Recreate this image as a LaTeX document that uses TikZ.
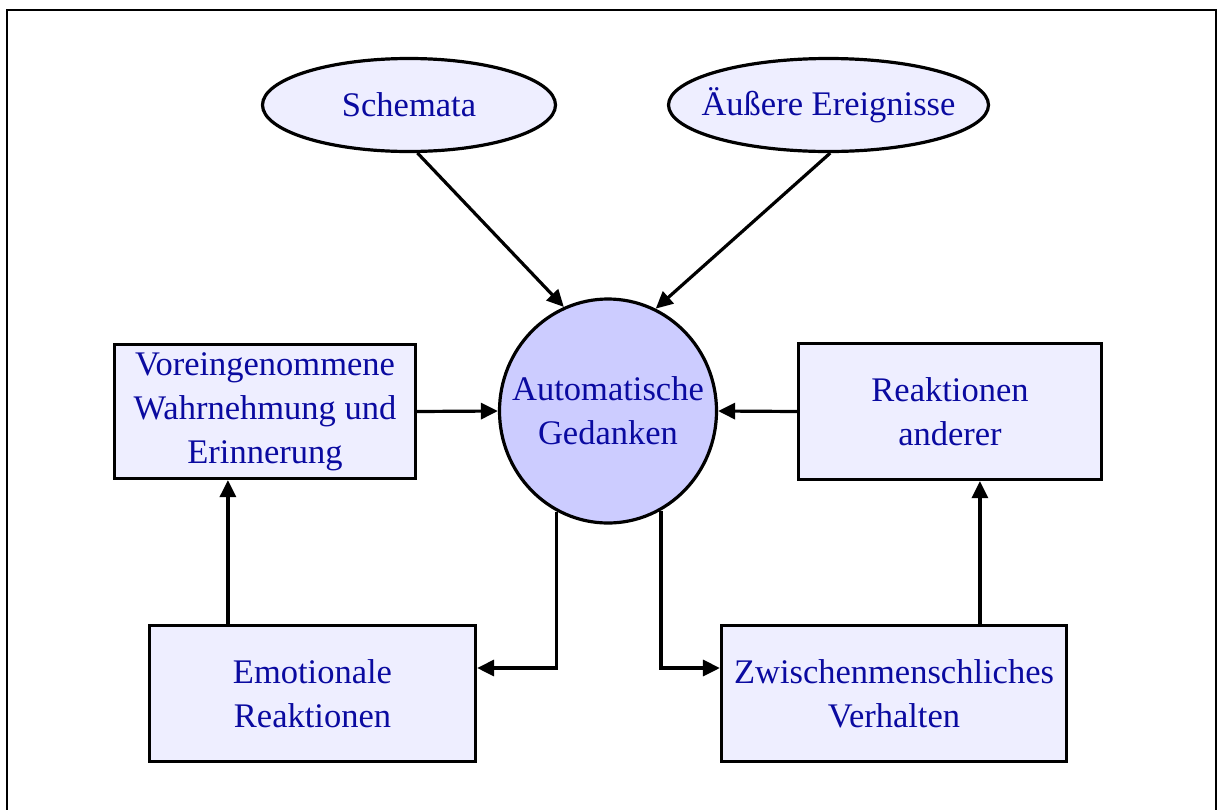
\documentclass[tikz,border=0pt]{standalone}
\usepackage{fontspec}
\setmainfont{Liberation Serif}
\usetikzlibrary{arrows.meta,calc,shapes.geometric}
\definecolor{labelblue}{RGB}{10,10,160}
\definecolor{paleblue}{RGB}{238,238,255}
\definecolor{coreblue}{RGB}{204,204,255}
\begin{document}
\begin{tikzpicture}[x=1pt,y=-1pt,
  every node/.style={font=\fontsize{34.5}{44}\selectfont, text=labelblue, align=center, inner sep=0pt},
  every label/.style={font=\fontsize{34.5}{44}\selectfont, text=labelblue, align=center, inner sep=0pt},
  oval/.style={ellipse, draw=black, line width=3.2pt, fill=paleblue},
  core/.style={ellipse, draw=black, line width=3.2pt, fill=coreblue},
  stepbox/.style={rectangle, draw=black, line width=3.2pt, fill=paleblue},
  arr/.style={line width=3.2pt, -{Triangle[length=17pt,width=16pt]}}
]
\useasboundingbox (0,0) rectangle (1217,809);
\begin{scope}
  \clip (0,0) rectangle (1217,809);
  \draw[line width=2pt] (7,10) rectangle (1216,830);
\end{scope}

% top inputs (shape sized explicitly, text set as a centred label)
\node[oval, minimum width=293pt, minimum height=93pt, label=center:{Schemata}] (sch) at (409,105) {};
\node[oval, minimum width=320pt, minimum height=93pt, label=center:{Äußere Ereignisse}] (ext) at (828.5,105) {};

% central node
\node[core, minimum width=217pt, minimum height=224pt, label=center:{Automatische\\Gedanken}] (auto) at (608,411) {};

% side boxes
\node[stepbox, minimum width=301pt, minimum height=134pt] (vor) at (265,411.5) {Voreingenommene\\Wahrnehmung und\\Erinnerung};
\node[stepbox, minimum width=303pt, minimum height=136pt] (rea) at (950,411.5) {Reaktionen\\anderer};

% bottom boxes
\node[stepbox, minimum width=326pt, minimum height=136pt] (emo) at (312.5,693.5) {Emotionale\\Reaktionen};
\node[stepbox, minimum width=345pt, minimum height=136pt] (zw) at (894,693.5) {Zwischenmenschliches\\Verhalten};

% connector helpers
\coordinate (emoIn) at ($(emo.east)+(0,-25.5)$);
\coordinate (zwIn) at ($(zw.west)+(0,-25.5)$);
\coordinate (emoUp) at ($(emo.north west)+(80,0)$);
\coordinate (zwUp) at ($(zw.north west)+(260,0)$);

% connectors
\draw[arr] (sch.-80) -- (auto.113);
\draw[arr] (ext.-88) -- (auto.65);
\draw[arr] (vor.east) -- (auto.west);
\draw[arr] (rea.west) -- (auto.east);
\draw[arr] (auto.-117.6) |- (emoIn);
\draw[arr] (auto.-62.4) |- (zwIn);
\draw[arr] (emoUp) -- (emoUp |- vor.south);
\draw[arr] (zwUp) -- (zwUp |- rea.south);
\end{tikzpicture}
\end{document}
